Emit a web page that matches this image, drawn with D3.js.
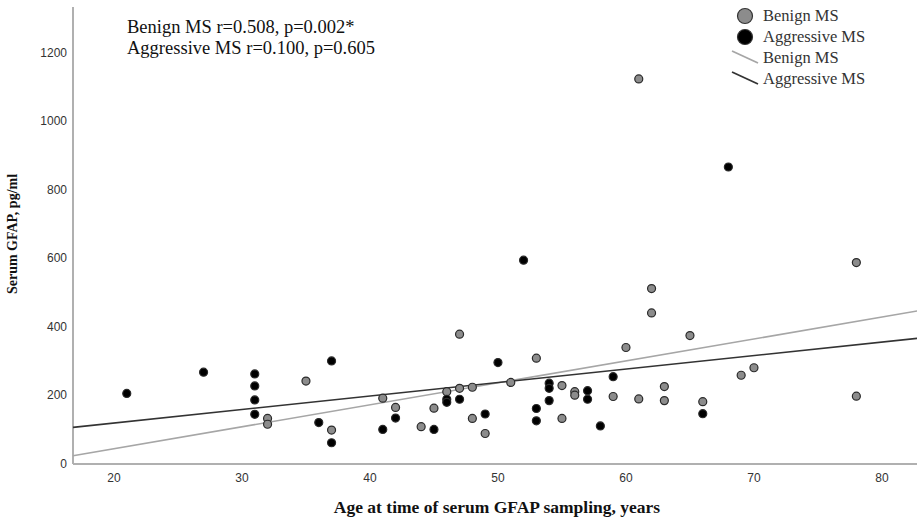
<!DOCTYPE html>
<html>
<head>
<meta charset="utf-8">
<script src="https://cdn.jsdelivr.net/npm/d3@7"></script>
<style>
    body { margin: 0; background: #ffffff; }
    svg { display: block; }
</style>
</head>
<body>
<svg id="chart" width="917" height="521"></svg>
<script>
// Benign MS: age (years) and serum GFAP (pg/ml)
const benignAge = [32, 32, 35, 37, 41, 42, 44, 45, 46, 47, 47, 48, 48, 49, 51, 53, 55, 55,
    56, 56, 59, 60, 61, 61, 62, 62, 63, 63, 65, 66, 69, 70, 78, 78];
const benignGfap = [133, 116, 242, 99, 192, 165, 109, 163, 211, 379, 221, 224, 133, 89, 238, 309, 229, 133,
    211, 201, 197, 340, 1124, 190, 512, 441, 226, 185, 375, 182, 259, 281, 588, 198];

// Aggressive MS: age (years) and serum GFAP (pg/ml)
const aggressiveAge = [21, 27, 31, 31, 31, 31, 36, 37, 37, 41, 42, 45, 46, 46, 47, 49, 50, 52,
    53, 53, 54, 54, 54, 57, 57, 58, 59, 66, 68];
const aggressiveGfap = [206, 268, 263, 228, 187, 145, 121, 301, 62, 101, 134, 101, 189, 180, 189, 146, 296, 595,
    162, 126, 236, 221, 185, 214, 189, 111, 255, 147, 867];

// fit lines [intercept, slope] as drawn in the figure
const benignFit = [-83.7, 6.41];
const aggressiveFit = [40.8, 3.94];

const xTicks = [20, 30, 40, 50, 60, 70, 80];
const yTicks = [0, 200, 400, 600, 800, 1000, 1200];

const statLines = ["Benign MS r=0.508, p=0.002*", "Aggressive MS r=0.100, p=0.605"];
const legendLabels = ["Benign MS", "Aggressive MS", "Benign MS", "Aggressive MS"];

const benignFill = "#8c8c8c";
const aggressiveFill = "#000000";
const benignLine = "#a6a6a6";
const aggressiveLine = "#333333";
const axisColor = "#b0b0b0";
const serif = "'Liberation Serif', 'Times New Roman', serif";
const sans = "'Liberation Sans', Arial, sans-serif";

const svg = d3.select("#chart");

const x = d3.scaleLinear().domain([16.8, 82.8]).range([73, 917.8]);
const y = d3.scaleLinear().domain([0, 1334]).range([464, 7]);

// axis lines
svg.append("line")
    .attr("x1", x(16.8)).attr("x2", x(16.8))
    .attr("y1", y(0)).attr("y2", y(1334))
    .attr("stroke", axisColor).attr("stroke-width", 2);
svg.append("line")
    .attr("x1", x(16.8)).attr("x2", 917)
    .attr("y1", y(0)).attr("y2", y(0))
    .attr("stroke", axisColor).attr("stroke-width", 2);

// tick labels
svg.selectAll(".ytick")
    .data(yTicks)
    .enter().append("text")
    .attr("class", "ytick")
    .attr("x", 67)
    .attr("y", d => y(d) + 4)
    .attr("text-anchor", "end")
    .attr("font-family", sans)
    .attr("font-size", 12)
    .attr("fill", "#333")
    .text(d => d);

svg.selectAll(".xtick")
    .data(xTicks)
    .enter().append("text")
    .attr("class", "xtick")
    .attr("x", d => x(d))
    .attr("y", 482)
    .attr("text-anchor", "middle")
    .attr("font-family", sans)
    .attr("font-size", 12)
    .attr("fill", "#333")
    .text(d => d);

// axis titles
svg.append("text")
    .attr("x", 497)
    .attr("y", 513)
    .attr("text-anchor", "middle")
    .attr("font-family", serif)
    .attr("font-weight", "bold")
    .attr("font-size", 17.5)
    .attr("fill", "#111")
    .text("Age at time of serum GFAP sampling, years");

svg.append("text")
    .attr("transform", "translate(17,234) rotate(-90)")
    .attr("text-anchor", "middle")
    .attr("font-family", serif)
    .attr("font-weight", "bold")
    .attr("font-size", 14)
    .attr("fill", "#111")
    .text("Serum GFAP, pg/ml");

// regression lines
function fitLine(fit, colour) {
    const xs = x.domain();
    svg.append("line")
        .attr("x1", x(xs[0])).attr("y1", y(fit[0] + fit[1] * xs[0]))
        .attr("x2", x(xs[1])).attr("y2", y(fit[0] + fit[1] * xs[1]))
        .attr("stroke", colour)
        .attr("stroke-width", 1.6);
}
fitLine(benignFit, benignLine);
fitLine(aggressiveFit, aggressiveLine);

// points
function drawPoints(ages, values, fill) {
    svg.append("g")
        .selectAll("circle")
        .data(ages)
        .enter().append("circle")
        .attr("cx", d => x(d))
        .attr("cy", (d, i) => y(values[i]))
        .attr("r", 4)
        .attr("fill", fill)
        .attr("stroke", "#2a2a2a")
        .attr("stroke-width", 1.2);
}
drawPoints(benignAge, benignGfap, benignFill);
drawPoints(aggressiveAge, aggressiveGfap, aggressiveFill);

// correlation text
svg.selectAll(".stat")
    .data(statLines)
    .enter().append("text")
    .attr("class", "stat")
    .attr("x", 127)
    .attr("y", (d, i) => 33 + i * 21)
    .attr("font-family", serif)
    .attr("font-size", 18.5)
    .attr("fill", "#111")
    .text(d => d);

// legend
const legend = svg.append("g");
legend.selectAll("text")
    .data(legendLabels)
    .enter().append("text")
    .attr("x", 763)
    .attr("y", (d, i) => 21 + i * 21)
    .attr("font-family", serif)
    .attr("font-size", 16.5)
    .attr("fill", "#333")
    .text(d => d);

[benignFill, aggressiveFill].forEach(function (c, i) {
    legend.append("circle")
        .attr("cx", 745)
        .attr("cy", 16 + i * 21)
        .attr("r", 7.5)
        .attr("fill", c)
        .attr("stroke", "#333")
        .attr("stroke-width", 1.2);
});
[benignLine, aggressiveLine].forEach(function (c, i) {
    legend.append("line")
        .attr("x1", 732).attr("y1", 51 + i * 21)
        .attr("x2", 758).attr("y2", 63 + i * 21)
        .attr("stroke", c)
        .attr("stroke-width", 1.8);
});
</script>
</body>
</html>
